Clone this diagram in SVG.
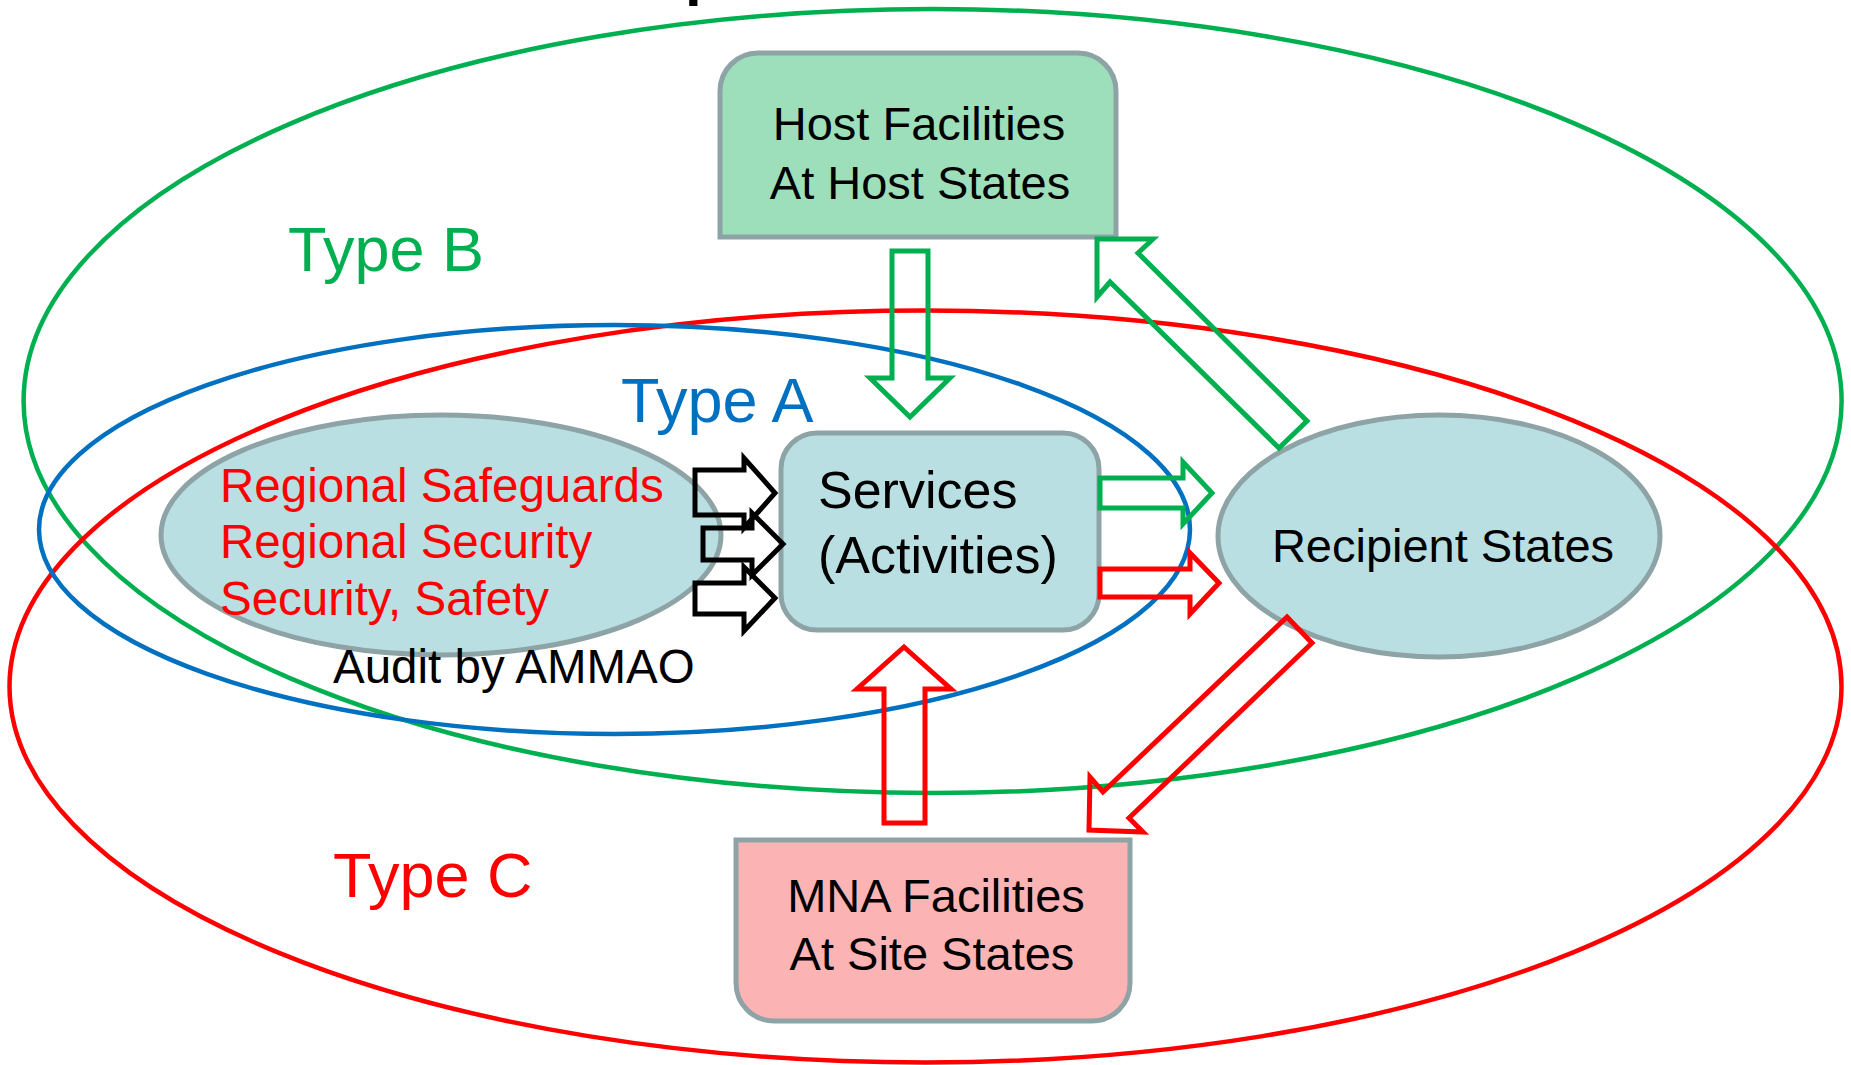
<svg xmlns="http://www.w3.org/2000/svg" width="1851" height="1065" viewBox="0 0 1851 1065">
<style>
text{font-family:"Liberation Sans",Arial,sans-serif}
.big{fill:none;stroke-width:4.5}
.node{fill:#b9dfe3;stroke:#8ea3a6;stroke-width:5}
.lbl{font-size:47px;fill:#000}
.red{font-size:47.5px;fill:#ff0000}
.type{font-size:63px}
.arr{fill:none;stroke-width:5;stroke-linejoin:miter}
</style>
<rect width="1851" height="1065" fill="#fff"/>
<text x="685" y="-6.5" style="font-size:60px;font-weight:bold" fill="#000">p</text>
<g id="regions">
<ellipse id="typeB-region" class="big" cx="932.6" cy="401" rx="909" ry="392" stroke="#00b050"/>
<ellipse id="typeC-region" class="big" cx="925.5" cy="686.5" rx="916" ry="376" stroke="#ff0000"/>
<ellipse id="typeA-region" class="big" cx="614.5" cy="529.5" rx="575.5" ry="204.5" stroke="#0070c0"/>
</g>
<g id="labels">
<text class="type" x="288" y="271" fill="#00b050">Type B</text>
<text class="type" x="621" y="422" fill="#0070c0">Type A</text>
<text class="type" x="333" y="897" fill="#ff0000">Type C</text>
</g>
<g id="regional">
<ellipse class="node" cx="441" cy="535" rx="280" ry="120"/>
<text class="red" x="220" y="502">Regional Safeguards</text>
<text class="red" x="220" y="558">Regional Security</text>
<text class="red" x="220" y="615">Security, Safety</text>
<text x="333" y="683" style="font-size:47.5px" fill="#000">Audit by AMMAO</text>
</g>
<g id="host">
<path d="M720,237 V91 A38,38 0 0 1 758,53 H1078 A38,38 0 0 1 1116,91 V237 Z" fill="#9ddfba" stroke="#8ea3a6" stroke-width="5"/>
<text class="lbl" x="919" y="140" text-anchor="middle">Host Facilities</text>
<text class="lbl" x="920" y="199" text-anchor="middle">At Host States</text>
</g>
<g id="services">
<rect class="node" x="781" y="433" width="318" height="197" rx="36"/>
<text x="818" y="508" style="font-size:52px" fill="#000">Services</text>
<text x="818" y="573" style="font-size:52px" fill="#000">(Activities)</text>
</g>
<g id="recipient">
<ellipse class="node" cx="1439" cy="536" rx="221" ry="121"/>
<text class="lbl" x="1443" y="562" text-anchor="middle">Recipient States</text>
</g>
<g id="mna">
<path d="M736,840 H1130 V983 A38,38 0 0 1 1092,1021 H774 A38,38 0 0 1 736,983 Z" fill="#fbb3b3" stroke="#8ea3a6" stroke-width="5"/>
<text class="lbl" x="936" y="912" text-anchor="middle">MNA Facilities</text>
<text class="lbl" x="932" y="970" text-anchor="middle">At Site States</text>
</g>
<g id="connectors">
<polygon class="arr" stroke="#00b050" points="892,251 928,251 928,378 950,378 910,417 870,378 892,378"/>
<polygon class="arr" stroke="#ff0000" points="884,823 925,823 925,689 951,689 904,647 857,689 884,689"/>
<polygon class="arr" stroke="#00b050" points="1100,478 1183,478 1183,462 1212,493 1183,524 1183,508 1100,508"/>
<polygon class="arr" stroke="#ff0000" points="1100,569 1190,569 1190,553 1219,583 1190,614 1190,597 1100,597"/>
<polygon class="arr" stroke="#000" points="695,470 744,470 744,458 775,493 744,528 744,515 695,515"/>
<polygon class="arr" stroke="#000" points="703,528 752,528 752,513 783,544 752,575 752,560 703,560"/>
<polygon class="arr" stroke="#000" points="695,583 744,583 744,567 775,598 744,631 744,614 695,614"/>
<polygon class="arr" stroke="#00b050" points="1097,239 1153,239 1138,253 1307,421 1279,448 1110,282 1097,297"/>
<polygon class="arr" stroke="#ff0000" points="1287,617 1312,643 1129,818 1143,832 1089,830 1090,777 1103,792"/>
</g>
</svg>
